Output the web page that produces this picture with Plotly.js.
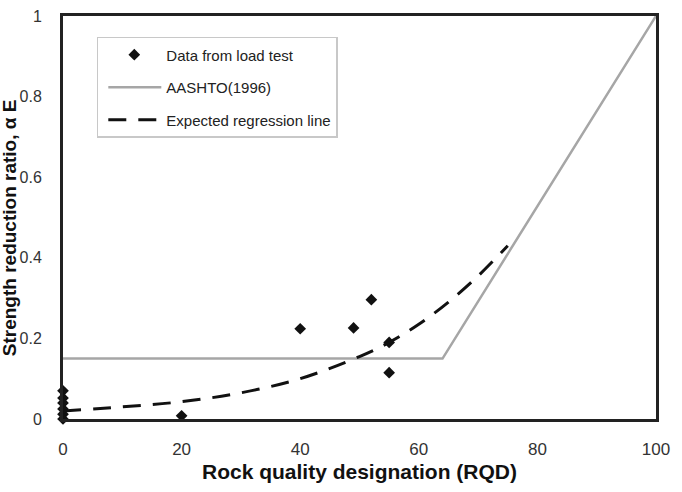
<!DOCTYPE html>
<html>
<head>
<meta charset="utf-8">
<script src="https://cdn.plot.ly/plotly-3.0.1.min.js"></script>
<style>html,body{margin:0;padding:0;background:#fff;}#chart{width:682px;height:492px;}</style>
</head>
<body>
<div id="chart"></div>
<script>
// Data from load test
const testRQD = [0, 0, 0, 0, 0, 0, 20, 40, 49, 52, 55, 55];
const testAlpha = [0.07, 0.052, 0.04, 0.025, 0.012, 0.0, 0.008, 0.224, 0.226, 0.296, 0.19, 0.115];
// AASHTO (1996)
const aashtoRQD = [0, 64, 100];
const aashtoAlpha = [0.15, 0.15, 1.0];
// Expected regression line
const regRQD = [0, 10, 20, 30, 40, 50, 55, 60, 65, 70, 75];
const regAlpha = [0.02, 0.03, 0.043, 0.065, 0.1, 0.155, 0.19, 0.235, 0.29, 0.355, 0.43];

const xTicks = [0, 20, 40, 60, 80, 100];
const yTicks = [0, 0.2, 0.4, 0.6, 0.8, 1];
const yTickText = ['0', '0.2', '0.4', '0.6', '0.8', '1'];

const FONT = '"Liberation Sans Narrow", "Arial Narrow", "Liberation Sans", Arial, sans-serif';

const traces = [
  {x: testRQD, y: testAlpha, mode: 'markers', type: 'scatter', name: 'Data from load test',
   marker: {symbol: 'diamond', size: 9, color: '#111'}, cliponaxis: false, legendgroup: 'a'},
  {x: aashtoRQD, y: aashtoAlpha, mode: 'lines', type: 'scatter', name: 'AASHTO(1996)',
   line: {color: '#a6a6a6', width: 2.5}, legendgroup: 'b'},
  {x: regRQD, y: regAlpha, mode: 'lines', type: 'scatter', name: 'Expected regression line',
   line: {color: '#111', width: 3, dash: '18px,12px', shape: 'spline'}, legendgroup: 'c'}
];

const layout = {
  width: 682, height: 492,
  margin: {l: 63, r: 26, t: 16, b: 73},
  paper_bgcolor: '#fff', plot_bgcolor: '#fff',
  font: {family: FONT, size: 14, color: '#222'},
  showlegend: true,
  legend: {x: 0.057, y: 0.948, xanchor: 'left', yanchor: 'top',
    bgcolor: '#fff', bordercolor: '#c8c8c8', borderwidth: 1.5,
    font: {family: FONT, size: 15, color: '#222'},
    traceorder: 'grouped', tracegroupgap: 10, itemwidth: 58},
  xaxis: {range: [0, 100], tickvals: xTicks, ticktext: xTicks.map(String),
    showgrid: false, zeroline: false, showline: true, mirror: true,
    linecolor: '#222', linewidth: 3, ticks: 'outside', ticklen: 13, tickcolor: 'rgba(0,0,0,0)',
    tickfont: {family: FONT, size: 17, color: '#333'},
    title: {text: '<b>Rock quality designation (RQD)</b>', standoff: 6,
      font: {family: FONT, size: 21, color: '#111'}}},
  yaxis: {range: [0, 1], tickvals: yTicks, ticktext: yTickText,
    showgrid: false, zeroline: false, showline: true, mirror: true,
    linecolor: '#222', linewidth: 3, ticks: 'outside', ticklen: 15, tickcolor: 'rgba(0,0,0,0)',
    tickfont: {family: FONT, size: 16, color: '#333'}},
  annotations: [{
    text: '<b>Strength reduction ratio, α E</b>', textangle: -90,
    xref: 'paper', yref: 'paper', x: -0.089, y: 0.474, xanchor: 'center', yanchor: 'middle',
    showarrow: false, font: {family: FONT, size: 19, color: '#111'}
  }]
};

Plotly.newPlot('chart', traces, layout, {displayModeBar: false, staticPlot: true}).then(function (gd) {
  // lengthen the legend line samples and centre the marker sample on them
  gd.querySelectorAll('.legend .legendlines path').forEach(function (p) {
    p.setAttribute('d', 'M10,0h53');
  });
  gd.querySelectorAll('.legend .legendpoints path').forEach(function (p) {
    p.setAttribute('transform', 'translate(36,0)');
  });
});
</script>
</body>
</html>
